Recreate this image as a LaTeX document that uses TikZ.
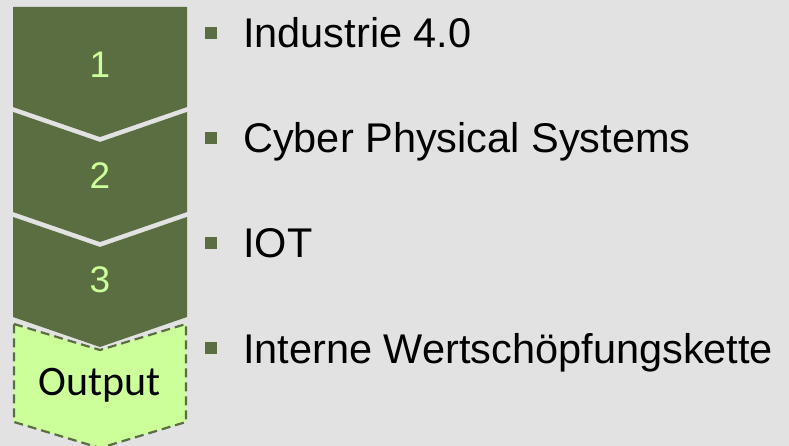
\documentclass[tikz,border=0pt]{standalone}
\usepackage{fontspec}
\setmainfont{Liberation Sans}
\newfontfamily\calfont{Carlito}
\usepackage{xcolor}
\usepackage{tikz}
\usetikzlibrary{positioning}

\definecolor{bggrey}{HTML}{E2E2E2}
\definecolor{stagegreen}{HTML}{5B6E41}
\definecolor{lightgreen}{HTML}{CCFF99}

\begin{document}
\begin{tikzpicture}[
    x=1pt, y=-1pt,
    stage/.style={fill=stagegreen},
    outstage/.style={fill=lightgreen, draw=stagegreen, line width=2.2pt, dash pattern=on 9pt off 5pt},
    num/.style={font=\fontsize{37}{37}\selectfont, text=lightgreen, inner sep=0pt},
    outlabel/.style={font=\calfont\fontsize{42}{42}\selectfont, inner sep=0pt},
    bullet/.style={rectangle, fill=stagegreen, minimum size=12pt, inner sep=0pt},
    item/.style={anchor=base west, font=\fontsize{41.5}{48}\selectfont, inner sep=0pt},
]
\fill[bggrey] (0,0) rectangle (789,446);
\useasboundingbox (0,0) rectangle (789,446);

% stages
\fill[stage] (13,7) -- (187,7) -- (187,107) -- (100,137) -- (13,107) -- cycle;
\foreach \t in {112,217}{
  \fill[stage] (13,\t) -- (100,\t+30) -- (187,\t) -- (187,\t+100) -- (100,\t+130) -- (13,\t+100) -- cycle;
}
\draw[outstage] (14,324) -- (100,350) -- (186,324) -- (186,422) -- (100,448) -- (14,422) -- cycle;

\node[num] (one) at (100,65) {1};
\node[num] (two) at (100,176) {2};
\node[num] (three) at (100,280) {3};
\node[outlabel] (output) at (100,385) {Output};

% bullet list
\node[bullet] (b1) at (211,33) {};
\node[bullet] (b2) at (211,138) {};
\node[bullet] (b3) at (211,243) {};
\node[bullet] (b4) at (211,348) {};
\node[item] (industrie) at (243,48) {Industrie 4.0};
\node[item] (cps) at (243,153) {Cyber Physical Systems};
\node[item] (iot) at (243,258) {IOT};
\node[item] (kette) at (243,363) {Interne Wertschöpfungskette};
\end{tikzpicture}
\end{document}
